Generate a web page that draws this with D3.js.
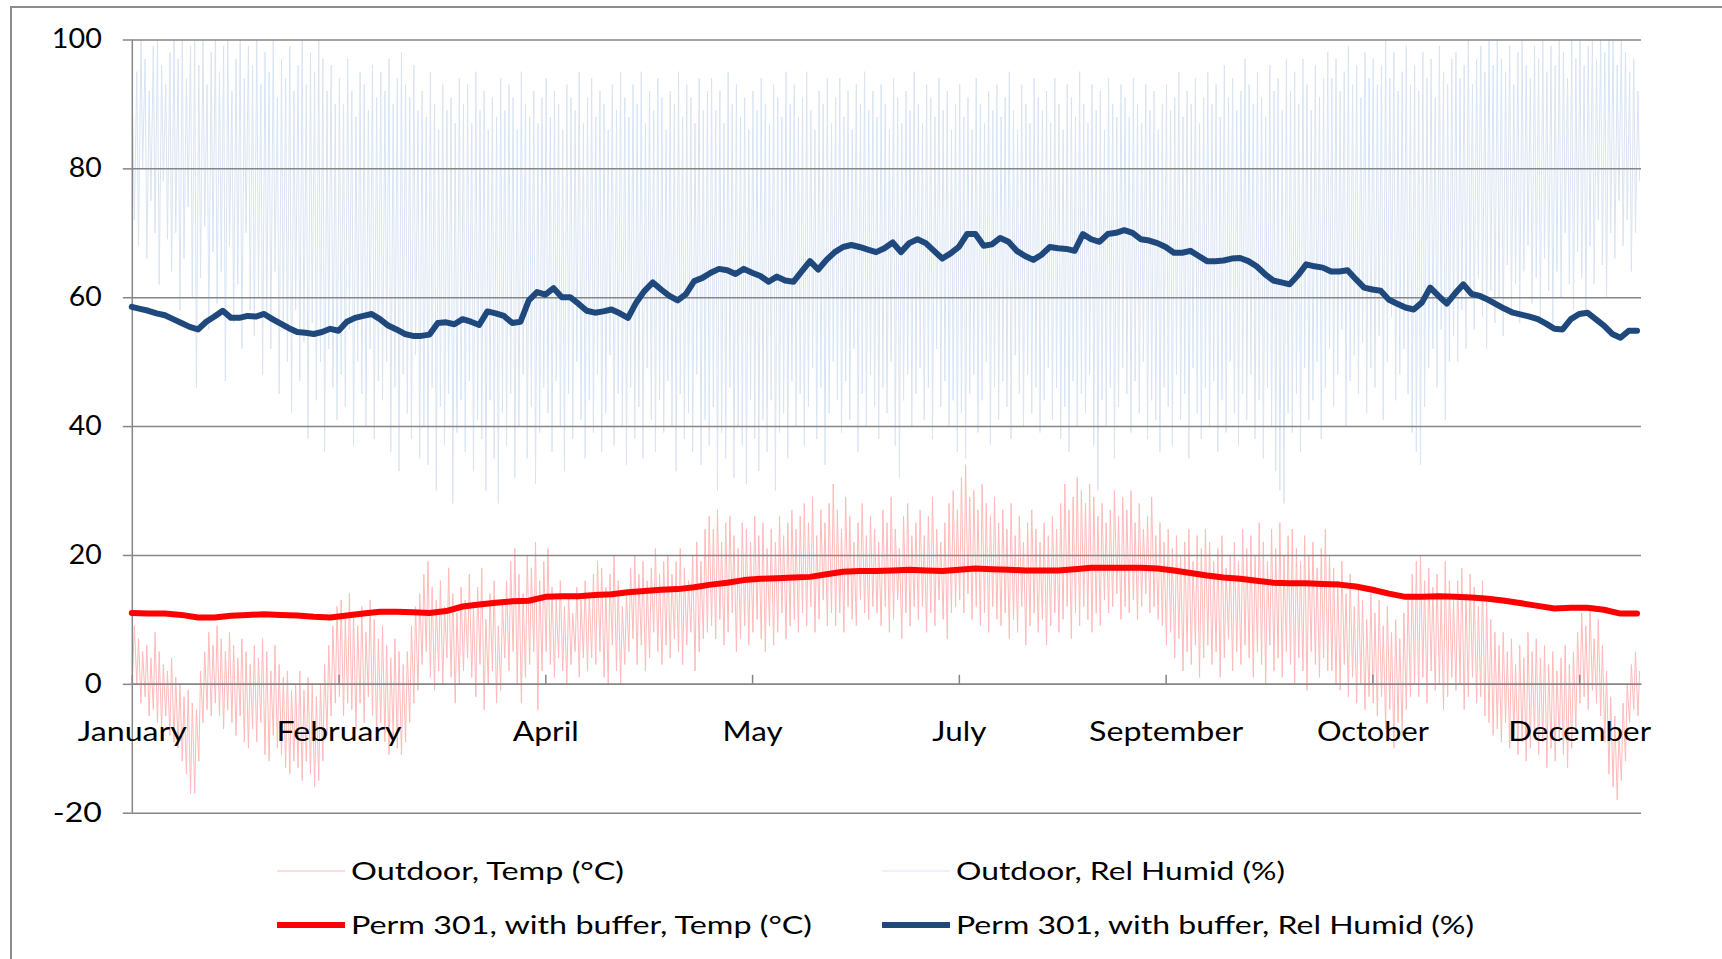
<!DOCTYPE html>
<html>
<head>
<meta charset="utf-8">
<title>Perm 301 climate</title>
<script src="https://cdnjs.cloudflare.com/ajax/libs/d3/7.8.5/d3.min.js"></script>
<style>
	body { margin: 0; background: #fff; }
	text { font-family: Lato, "Open Sans", sans-serif; fill: #000; }
</style>
</head>
<body>
<svg id="chart" width="1722" height="959"></svg>
<script>
// outdoor temperature, daily high / low (°C), day 0 = 1 January
var tempHigh = [
	9,7,5,6,4,8,5,3,2,4, 1,0,-2,-1,-3,-4,2,5,8,6, 9,7,5,8,6,4,7,5,3,6, 4,7,5,2,6,3,1,2,-1,0,
	2,-1,1,0,-2,0,3,6,9,12, 13,10,14,11,9,12,8,13,10,7, 9,6,4,7,5,3,5,9,12,14, 17,19,15,13,16,12,18,14,11,15,
	13,17,12,15,18,10,14,16,9,13, 16,19,21,17,14,20,18,22,16,19, 21,15,13,16,12,14,11,15,13,16, 14,17,19,18,15,17,20,16,12,14,
	18,20,17,19,16,18,21,17,19,20, 17,19,21,18,16,20,22,19,24,26, 24,27,22,25,26,23,21,25,24,22, 26,23,25,21,24,22,26,23,25,27,
	24,26,28,25,29,23,27,25,28,31, 27,24,29,26,22,25,28,23,26,24, 22,27,25,29,24,21,26,28,23,25, 27,23,26,29,24,22,25,28,30,27,
	32,34,29,30,27,31,28,26,29,25, 27,24,28,23,26,22,25,27,24,22, 25,23,26,24,28,31,27,29,32,30, 28,31,29,26,28,25,27,30,26,29,
	27,30,25,28,24,26,29,23,25,22, 24,21,23,20,22,24,19,23,21,24, 22,19,21,23,18,20,22,19,24,21, 23,20,25,22,19,24,21,25,20,23,
	24,21,19,23,20,22,18,21,24,20, 18,16,19,14,17,12,15,13,10,14, 11,13,9,12,8,10,7,11,14,17, 19,20,16,18,15,17,14,19,16,13,
	16,18,14,17,15,12,16,13,10,8, 6,8,5,7,3,6,4,8,5,7, 4,6,3,5,2,4,6,3,5,8, 11,9,12,7,10,6,2,-2,-5,-8,
	-3,0,3,5,2
];
var tempLow = [
	2,0,-3,-2,-5,-4,-6,-7,-5,-8, -9,-10,-12,-14,-17,-17,-12,-6,-4,-5, -3,-5,-7,-4,-6,-8,-5,-9,-10,-7, -9,-6,-11,-12,-8,-10,-11,-13,-14,-12,
	-13,-15,-12,-14,-16,-15,-12,-8,-5,-3, -2,-5,-3,-4,-7,-3,-6,-2,-5,-8, -6,-9,-11,-8,-10,-11,-9,-6,-3,-1, 3,5,1,-1,2,0,4,1,-3,0,
	2,4,1,-2,3,-4,0,2,-3,-1, 4,2,5,0,-3,1,3,5,-4,2, 5,3,1,4,2,0,3,5,1,4, 2,4,3,5,1,0,6,2,0,3,
	5,7,3,6,2,4,8,5,3,6, 4,7,5,3,6,8,2,5,7,8, 9,7,10,6,8,11,5,7,9,6, 8,10,7,5,9,6,8,11,7,9,
	10,8,11,9,12,8,10,13,9,11, 9,11,8,12,10,9,13,11,10,12, 11,9,12,8,10,13,7,11,9,12, 10,12,8,11,9,13,10,7,11,12,
	13,11,14,10,12,9,11,8,12,10, 9,11,7,10,8,12,6,9,11,8, 10,6,9,11,8,10,12,7,11,9, 12,10,8,11,9,13,11,12,14,10,
	12,11,13,10,12,14,11,12,10,9, 6,8,4,7,2,5,3,6,1,4, 6,3,5,1,4,7,2,5,3,6, 4,1,5,3,0,6,2,4,1,5,
	3,0,4,2,-1,5,3,1,4,2, 2,0,-1,3,-2,1,-3,0,-4,-2, -3,-5,-2,-7,-4,-10,-6,-8,-4,-2, 0,-2,1,-3,2,-1,0,-4,-2,1,
	-1,0,-4,-2,1,-3,-2,-5,-6,-8, -7,-9,-6,-10,-8,-11,-9,-12,-10,-8, -11,-9,-13,-10,-12,-9,-11,-13,-10,-7, -3,-2,-4,-1,-3,-5,-9,-14,-16,-18,
	-15,-12,-6,-4,-5
];
// outdoor relative humidity, daily high / low (%)
var humidHigh = [
	88,95,100,97,92,99,100,96,93,98, 100,97,100,94,99,100,96,100,93,98, 100,95,99,100,92,97,100,94,99,96, 100,93,98,95,100,91,97,94,99,92,
	96,100,93,98,95,100,97,92,96,90, 94,90,97,92,88,95,93,89,96,91, 95,92,97,90,94,98,93,91,96,89, 92,88,95,90,86,93,89,91,87,94,
	90,93,87,95,89,92,86,91,88,94, 89,93,91,86,95,90,88,92,87,91, 94,88,92,90,86,93,91,89,95,87, 91,94,88,92,90,86,93,89,95,91,
	88,93,90,95,87,92,89,94,91,86, 92,90,95,88,93,91,87,94,89,92, 94,89,92,87,95,90,93,88,91,86, 92,89,94,90,87,93,91,88,95,90,
	93,88,91,95,89,86,92,90,94,87, 91,94,88,92,86,93,90,95,89,92, 88,93,90,86,94,91,87,92,89,95, 90,87,93,91,88,94,89,92,86,90,
	93,88,91,86,94,90,87,92,89,93, 88,91,95,89,86,93,90,87,94,91, 89,92,87,94,90,86,93,91,88,95, 90,87,93,89,92,86,94,90,88,93,
	91,88,94,90,87,93,89,92,86,90, 93,89,91,95,88,92,90,94,87,91, 95,90,93,88,96,91,94,89,92,97, 93,90,95,91,88,96,92,94,89,97,
	92,95,90,97,93,89,96,91,94,98, 94,97,92,95,99,93,96,91,98,94, 97,93,96,100,94,98,92,95,99,93, 96,92,98,94,97,91,99,95,93,97,
	98,94,96,100,93,97,99,95,100,96, 100,97,95,99,93,98,100,96,94,99, 97,100,95,99,96,100,98,94,100,97, 100,96,99,100,97,100,98,100,100,96,
	100,98,95,97,92
];
var humidLow = [
	72,68,80,66,75,70,62,78,69,64, 70,58,66,74,60,46,63,71,55,67, 59,64,47,68,56,62,52,70,58,54, 60,48,57,52,64,45,55,50,42,58,
	47,53,38,56,44,50,36,52,46,41, 48,43,55,37,50,45,40,52,38,47, 44,50,36,46,33,48,42,38,51,35, 40,34,46,30,43,37,45,28,39,44,
	36,47,33,41,38,30,44,35,28,42, 37,45,32,40,48,35,43,31,39,46, 42,36,47,40,33,45,38,50,41,35, 44,39,48,36,42,51,37,45,40,34,
	46,38,43,35,49,41,36,44,39,47, 40,33,45,38,42,36,48,34,41,37, 43,30,39,35,46,32,40,37,31,44, 38,33,41,36,44,30,39,42,35,47,
	40,45,37,43,49,38,46,34,42,50, 44,39,47,41,52,36,45,40,48,43, 38,46,42,50,37,32,44,48,40,45, 49,41,46,38,52,43,47,40,44,36,
	42,35,45,48,39,44,50,37,46,41, 47,43,38,51,45,40,48,42,46,39, 44,49,41,46,38,43,36,47,40,45, 42,48,37,30,44,40,46,35,43,49,
	45,39,47,42,50,38,44,41,36,46, 43,37,48,41,45,35,49,42,38,46, 40,47,36,44,39,50,42,37,45,41, 48,38,44,35,46,40,33,30,28,42,
	39,45,36,49,41,44,50,38,46,52, 43,48,55,40,47,51,45,53,42,49, 46,54,41,50,57,44,48,52,45,39, 36,34,43,49,52,46,55,41,50,54,
	50,58,52,60,55,63,57,52,61,56, 60,54,65,58,62,56,64,68,59,63, 57,66,61,55,64,60,70,62,58,67, 63,58,68,62,72,65,60,70,66,75,
	68,72,64,70,78
];
// Perm 301 with buffer, temperature (°C), one reading every 4 days
var permTemp = [
	11.0,10.9,10.9,10.7,10.3,10.3,10.55,10.7,10.8,10.7, 10.6,10.4,10.3,10.6,10.9,11.2,11.2,11.1,11.0,11.3,
	12.0,12.3,12.6,12.8,12.9,13.5,13.6,13.6,13.8,13.9, 14.2,14.4,14.6,14.7,15.0,15.4,15.7,16.1,16.3,16.4,
	16.5,16.6,17.0,17.4,17.5,17.5,17.6,17.7,17.6,17.5, 17.7,17.9,17.8,17.7,17.6,17.6,17.6,17.8,18.0,18.0,
	18.0,18.0,17.9,17.6,17.2,16.8,16.5,16.3,16.0,15.7, 15.6,15.6,15.5,15.4,15.1,14.6,14.0,13.5,13.5,13.6,
	13.5,13.4,13.2,12.9,12.5,12.1,11.7,11.8,11.8,11.5, 10.9,10.9
];
// Perm 301 with buffer, relative humidity (%), one reading every 2 days
var permHumid = [
	58.5,58.2,57.9,57.5,57.2,56.6,56.0,55.4,55.0,56.2, 57.0,57.9,56.8,56.8,57.1,57.0,57.4,56.6,55.9,55.2,
	54.6,54.5,54.3,54.6,55.1,54.8,56.2,56.8,57.1,57.4, 56.6,55.6,55.0,54.3,54.0,54.0,54.2,56.0,56.1,55.8,
	56.6,56.2,55.7,57.8,57.5,57.1,56.0,56.2,59.5,60.8, 60.4,61.4,60.0,60.0,59.0,57.9,57.6,57.8,58.1,57.5,
	56.8,59.2,61.0,62.3,61.2,60.2,59.5,60.5,62.5,63.0, 63.8,64.4,64.2,63.6,64.4,63.8,63.3,62.4,63.2,62.6,
	62.4,64.0,65.6,64.3,65.8,67.0,67.8,68.1,67.8,67.4, 67.0,67.6,68.5,67.0,68.4,69.0,68.4,67.2,66.0,66.8,
	67.8,69.8,69.8,68.0,68.2,69.2,68.6,67.2,66.4,65.8, 66.6,67.8,67.6,67.5,67.2,69.8,69.0,68.6,69.8,70.0,
	70.4,70.0,69.0,68.8,68.4,67.8,66.9,66.9,67.2,66.4, 65.6,65.6,65.7,66.0,66.1,65.6,64.8,63.6,62.6,62.3,
	62.0,63.4,65.1,64.8,64.6,64.0,64.0,64.2,62.8,61.5, 61.2,61.0,59.6,59.0,58.4,58.1,59.2,61.5,60.2,59.0,
	60.6,62.0,60.5,60.2,59.6,58.9,58.2,57.6,57.3,57.0, 56.6,55.9,55.1,55.0,56.6,57.4,57.6,56.6,55.6,54.3,
	53.7,54.8,54.8
];
var monthLabels = ["January", "February", "April", "May", "July", "September", "October", "December"];
var yTicks = [-20, 0, 20, 40, 60, 80, 100];
var seriesNames = ["Outdoor, Temp (°C)", "Outdoor, Rel Humid (%)", "Perm 301, with buffer, Temp (°C)", "Perm 301, with buffer, Rel Humid (%)"];

var svg = d3.select("#chart");
var plotL = 131.8, plotR = 1641, plotT = 39.5, plotB = 812.7;
var hours = 8760;
var grey = "#868686";

var x = d3.scaleLinear().domain([0, hours - 1]).range([plotL, plotR]);
var y = d3.scaleLinear().domain([-20, 100]).range([plotB, plotT]);

// outer chart frame, only its top and left sides show
svg.append("path")
	.attr("d", "M11,970V7H1730")
	.attr("fill", "none")
	.attr("stroke", "#8c8c8c")
	.attr("stroke-width", 2);

// hourly-ish series built from daily extremes
var outTemp = [], outHumid = [];
for (var d = 0; d < tempHigh.length; d++) {
	outTemp.push({ h: d * 24 + 5, v: tempLow[d] });
	outTemp.push({ h: d * 24 + 15, v: tempHigh[d] });
	outHumid.push({ h: d * 24 + 5, v: humidHigh[d] });
	outHumid.push({ h: d * 24 + 15, v: humidLow[d] });
}
var inTemp = permTemp.map(function (v, i) { return { h: i * 96, v: v }; });
var inHumid = permHumid.map(function (v, i) { return { h: i * 48, v: v }; });

var line = d3.line()
	.x(function (d) { return x(d.h); })
	.y(function (d) { return y(d.v); });

var styles = [
	{ color: "#ffbaba", width: 1 },
	{ color: "#d9e4f3", width: 1 },
	{ color: "#ff0000", width: 6 },
	{ color: "#1f497d", width: 6 }
];

var plot = svg.append("g");
plot.append("path").datum(outHumid)
	.attr("d", line).attr("fill", "none")
	.attr("stroke", styles[1].color).attr("stroke-width", styles[1].width);
plot.append("path").datum(outTemp)
	.attr("d", line).attr("fill", "none")
	.attr("stroke", styles[0].color).attr("stroke-width", styles[0].width);

// gridlines
svg.append("g")
	.attr("transform", "translate(" + plotL + ",0)")
	.call(d3.axisLeft(y).tickValues(yTicks).tickSize(-(plotR - plotL)).tickFormat(""))
	.call(function (g) { g.select(".domain").remove(); })
	.selectAll("line").attr("stroke", grey).attr("stroke-width", 1.5);

// y axis (plain hyphen for negatives, as Excel prints it)
var yLabelWidth = { "-20": 49, "0": 17, "20": 33, "40": 33, "60": 33, "80": 33, "100": 50 };
svg.append("g")
	.attr("transform", "translate(" + plotL + ",0)")
	.call(d3.axisLeft(y).tickValues(yTicks).tickSize(9).tickPadding(21).tickFormat(function (d) { return String(d); }))
	.call(function (g) {
		g.select(".domain").attr("d", "M0.5," + plotT + "V" + plotB).attr("stroke", grey).attr("stroke-width", 1.5);
		g.selectAll("line").attr("stroke", grey).attr("stroke-width", 1.5);
		g.selectAll("text")
			.attr("font-size", 26)
			.attr("font-family", "Lato")
			.attr("fill", "#000")
			.attr("textLength", function (d) { return yLabelWidth[d]; })
			.attr("lengthAdjust", "spacingAndGlyphs");
	});

// x axis along zero, a label every 1200 hours
var xLabelWidth = [109, 125, 66, 60, 54, 154, 112, 143];
svg.append("g")
	.attr("transform", "translate(0," + y(0) + ")")
	.call(d3.axisBottom(x).tickValues(d3.range(0, hours, 1200)).tickSize(-9).tickSizeOuter(0).tickPadding(39)
		.tickFormat(function (d, i) { return monthLabels[i]; }))
	.call(function (g) {
		g.select(".domain").attr("stroke", grey).attr("stroke-width", 1.5);
		g.selectAll("line").attr("stroke", grey).attr("stroke-width", 1.5);
		g.selectAll("text")
			.attr("font-size", 26)
			.attr("font-family", "Lato")
			.attr("fill", "#000")
			.attr("textLength", function (d, i) { return xLabelWidth[i]; })
			.attr("lengthAdjust", "spacingAndGlyphs");
	});

plot = svg.append("g");
plot.append("path").datum(inTemp)
	.attr("d", line).attr("fill", "none")
	.attr("stroke", styles[2].color).attr("stroke-width", styles[2].width)
	.attr("stroke-linejoin", "round").attr("stroke-linecap", "round");
plot.append("path").datum(inHumid)
	.attr("d", line).attr("fill", "none")
	.attr("stroke", styles[3].color).attr("stroke-width", styles[3].width)
	.attr("stroke-linejoin", "round").attr("stroke-linecap", "round");

// legend, two rows of two
var legendWidth = [273, 329, 461, 518];
var legend = svg.append("g").selectAll("g").data(seriesNames).enter()
	.append("g")
	.attr("transform", function (d, i) { return "translate(" + (i % 2 ? 882 : 277) + "," + (i < 2 ? 871 : 925) + ")"; });
legend.append("line")
	.attr("x1", 0).attr("x2", 68).attr("y1", 0).attr("y2", 0)
	.attr("stroke", function (d, i) { return styles[i].color; })
	.attr("stroke-width", function (d, i) { return styles[i].width; });
legend.append("text")
	.attr("x", 74)
	.attr("y", 9)
	.attr("font-size", 25)
	.attr("textLength", function (d, i) { return legendWidth[i]; })
	.attr("lengthAdjust", "spacingAndGlyphs")
	.text(function (d) { return d; });
</script>
</body>
</html>
